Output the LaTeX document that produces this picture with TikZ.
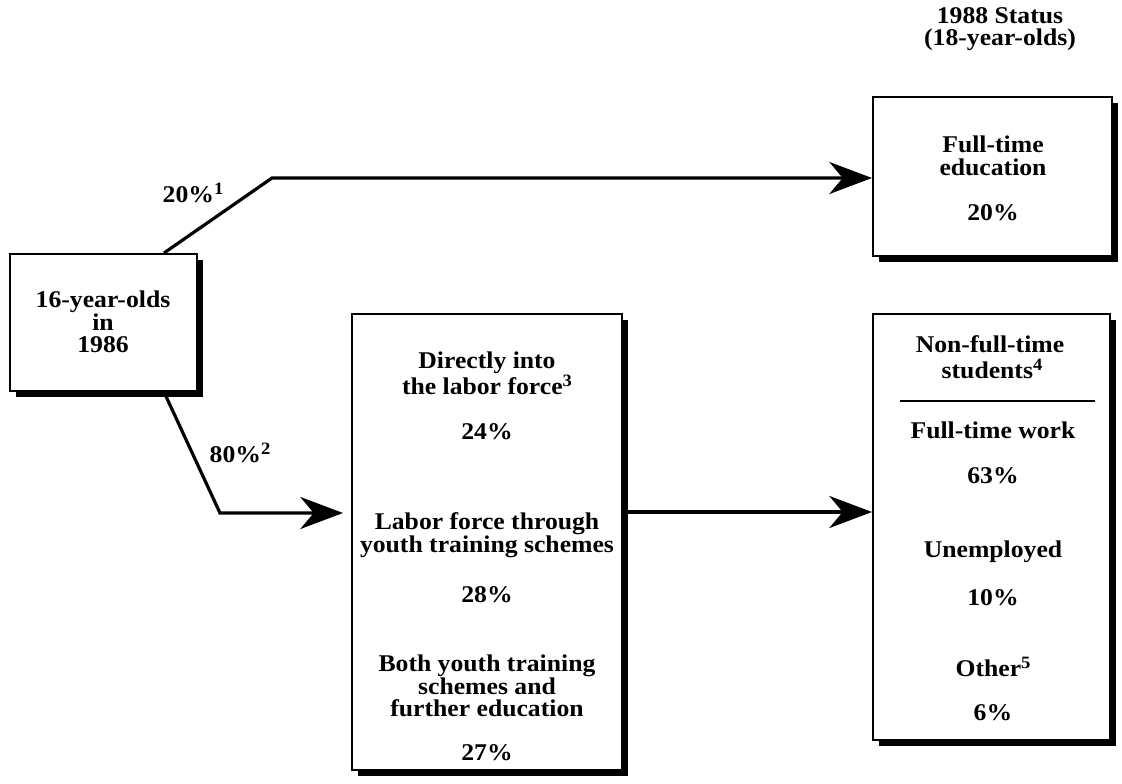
\documentclass[tikz,border=0pt]{standalone}
\usepackage{fontspec}
\setmainfont{Liberation Serif}[FakeStretch=1.07]
\usetikzlibrary{shadows,arrows.meta}
\newcommand{\supnum}[1]{\raisebox{0.75ex}{\fontsize{13}{13}\selectfont #1}}
\begin{document}
\begin{tikzpicture}[x=0.75pt,y=-0.75pt,
  box/.style={draw=black, line width=1.5pt, fill=white, inner sep=0pt,
    general shadow={fill=black, shadow xshift=4.5pt, shadow yshift=-4.5pt}},
  txt/.style={font=\fontsize{18}{16.8}\selectfont\bfseries, align=center, inner sep=0pt},
  conn/.style={line width=2.4pt, -{Stealth[length=32pt,width=24pt,inset=10pt]}},
  rulestyle/.style={line width=1.2pt}]
\useasboundingbox (0,0) rectangle (1122,784);
% boxes
\node[box, minimum width={187*0.75pt}, minimum height={137*0.75pt}] (A) at (103.5,322.5) {};
\node[box, minimum width={239*0.75pt}, minimum height={159*0.75pt}] (B) at (992.5,176.5) {};
\node[box, minimum width={270*0.75pt}, minimum height={456*0.75pt}] (C) at (487,542) {};
\node[box, minimum width={237*0.75pt}, minimum height={426*0.75pt}] (D) at (991.5,527) {};
% title
\node[txt] (title) at (1000,29) {1988 Status\\(18-year-olds)};
% box texts
\node[txt] (ta) at (103,322) {16-year-olds\\in\\1986};
\node[txt] (tb1) at (993,156) {Full-time\\education};
\node[txt] (tb2) at (993,213) {20\%};
\node[txt] (tc1) at (487,373) {Directly into\\the labor force\supnum{3}};
\node[txt] (tc2) at (487,432) {24\%};
\node[txt] (tc3) at (487,535) {Labor force through\\youth training schemes};
\node[txt] (tc4) at (487,595) {28\%};
\node[txt] (tc5) at (487,686) {Both youth training\\schemes and\\further education};
\node[txt] (tc6) at (487,753) {27\%};
\node[txt] (td1a) at (990,344) {Non-full-time};
\node[txt] (td1b) at (992,369) {students\supnum{4}};
\coordinate (r1) at (900,401);
\coordinate (r2) at (1095,401);
\draw[rulestyle] (r1) -- (r2);
\node[txt] (td2) at (993,430) {Full-time work};
\node[txt] (td3) at (993,476) {63\%};
\node[txt] (td4) at (993,552) {Unemployed};
\node[txt] (td5) at (993,598) {10\%};
\node[txt] (td6) at (993,667) {Other\supnum{5}};
\node[txt] (td7) at (993,713) {6\%};
% labels
\node[txt] (l20) at (193,193) {20\%\supnum{1}};
\node[txt] (l80) at (240,453) {80\%\supnum{2}};
% connectors
\coordinate (b1) at (272,178);
\coordinate (b2) at (220,513);
\draw[conn] ([xshift=-25.5pt]A.north east) -- (b1) -- (b1 -| B.west);
\draw[conn, shorten >=6pt] ([xshift=-25.5pt]A.south east) -- (b2) -- (b2 -| C.west);
\draw[conn] ([yshift=22.5pt]C.east) coordinate (m) -- (m -| D.west);
\end{tikzpicture}
\end{document}
